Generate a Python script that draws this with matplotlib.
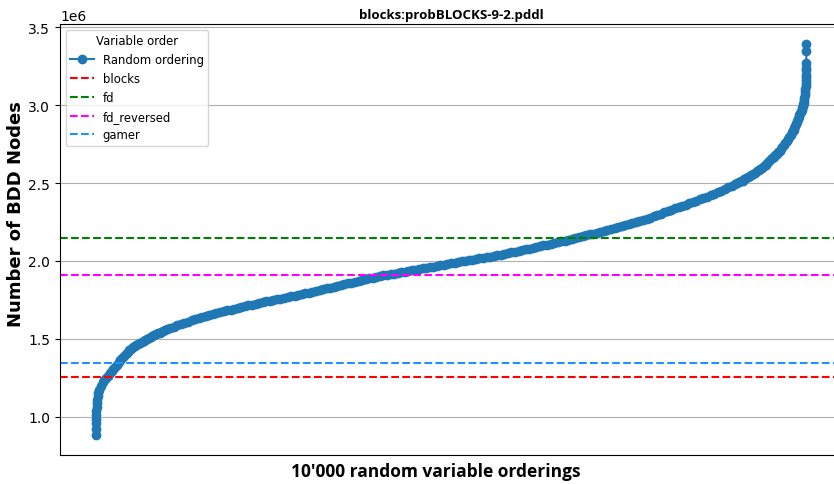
import numpy as np
import matplotlib
matplotlib.use("Agg")
import matplotlib.pyplot as plt

# sorted BDD sizes of the random orderings (in millions)
tail_lo_rank = [0, 1, 2, 4, 7, 10, 14, 19, 25, 32, 40]
tail_lo_nodes = [0.880, 0.923, 0.962, 0.985, 1.010, 1.035, 1.060, 1.085, 1.110, 1.135, 1.155]

lo_rank = list(range(50, 1000, 25))
lo_nodes = [
    1.170, 1.198, 1.221, 1.236, 1.249, 1.262, 1.278, 1.293, 1.308, 1.322,
    1.335, 1.349, 1.363, 1.377, 1.390, 1.403, 1.415, 1.427, 1.437, 1.446,
    1.454, 1.462, 1.469, 1.476, 1.482, 1.488, 1.494, 1.499, 1.505, 1.512,
    1.518, 1.524, 1.529, 1.535, 1.540, 1.546, 1.551, 1.556,
]

mid_rank = list(range(1000, 9000, 50))
mid_nodes = [
    1.560, 1.569, 1.578, 1.587, 1.596, 1.603, 1.611, 1.619, 1.626, 1.632,
    1.639, 1.645, 1.652, 1.659, 1.665, 1.671, 1.677, 1.683, 1.688, 1.693,
    1.698, 1.702, 1.708, 1.714, 1.719, 1.725, 1.731, 1.736, 1.741, 1.745,
    1.749, 1.753, 1.758, 1.763, 1.768, 1.772, 1.777, 1.782, 1.787, 1.792,
    1.797, 1.803, 1.808, 1.813, 1.819, 1.824, 1.829, 1.835, 1.840, 1.845,
    1.851, 1.856, 1.861, 1.866, 1.872, 1.877, 1.882, 1.888, 1.893, 1.898,
    1.903, 1.907, 1.911, 1.915, 1.919, 1.923, 1.927, 1.932, 1.936, 1.940,
    1.944, 1.948, 1.952, 1.956, 1.960, 1.964, 1.968, 1.972, 1.977, 1.981,
    1.985, 1.989, 1.993, 1.997, 2.001, 2.004, 2.008, 2.012, 2.016, 2.020,
    2.024, 2.028, 2.032, 2.036, 2.040, 2.045, 2.050, 2.055, 2.060, 2.064,
    2.069, 2.074, 2.079, 2.084, 2.089, 2.094, 2.099, 2.104, 2.110, 2.115,
    2.120, 2.126, 2.131, 2.136, 2.142, 2.147, 2.153, 2.159, 2.165, 2.171,
    2.176, 2.182, 2.188, 2.194, 2.200, 2.206, 2.212, 2.218, 2.224, 2.230,
    2.236, 2.242, 2.248, 2.254, 2.262, 2.270, 2.278, 2.286, 2.294, 2.302,
    2.311, 2.319, 2.328, 2.338, 2.346, 2.354, 2.362, 2.370, 2.378, 2.387,
    2.395, 2.404, 2.412, 2.422, 2.432, 2.442, 2.452, 2.462, 2.473, 2.484,
]

hi_rank = (list(range(9000, 9500, 25)) + list(range(9500, 9800, 20))
           + list(range(9800, 9960, 10)))
hi_nodes = [
    2.494, 2.499, 2.504, 2.510, 2.516, 2.523, 2.530, 2.537, 2.545, 2.552,
    2.560, 2.567, 2.575, 2.582, 2.590, 2.598, 2.607, 2.618, 2.630, 2.641,
    2.652, 2.661, 2.670, 2.679, 2.689, 2.698, 2.708, 2.717, 2.729, 2.743,
    2.756, 2.770, 2.783, 2.797, 2.811,
    2.826, 2.834, 2.843, 2.854, 2.865, 2.877, 2.889, 2.901, 2.912, 2.924,
    2.935, 2.947, 2.959, 2.971, 2.983, 2.995,
]

tail_hi_rank = [9955, 9960, 9965, 9970, 9975, 9979, 9983, 9986, 9988, 9990,
                9992, 9993, 9995, 9996, 9997, 9998, 9999]
tail_hi_nodes = [3.005, 3.015, 3.030, 3.045, 3.065, 3.085, 3.105, 3.125, 3.140, 3.160,
                 3.180, 3.195, 3.225, 3.240, 3.270, 3.345, 3.395]

# fixed variable orders (millions)
order_names = ["blocks", "fd", "fd_reversed", "gamer"]
order_nodes = [1.256, 2.145, 1.907, 1.347]
order_colors = ["red", "green", "magenta", "dodgerblue"]

rank = tail_lo_rank + lo_rank + mid_rank + hi_rank + tail_hi_rank
nodes = np.array(tail_lo_nodes + lo_nodes + mid_nodes + hi_nodes + tail_hi_nodes) * 1e6

fig = plt.figure(figsize=(8.34, 4.85), dpi=100)
ax = fig.add_axes([60 / 834, 29 / 485, 782 / 834, 431 / 485])

ax.plot(rank, nodes, marker="o", label="Random ordering")
for name, val, col in zip(order_names, order_nodes, order_colors):
    ax.axhline(val * 1e6, color=col, linestyle="--", label=name)

ax.set_xticks([])
ax.grid(axis="y")
ax.set_title("blocks:probBLOCKS-9-2.pddl", fontsize=9.5, fontweight="bold",
             family="Open Sans", pad=4.5)
ax.set_xlabel("10'000 random variable orderings", fontsize=12.5, fontweight="bold",
              family="Open Sans")
ax.xaxis.set_label_coords(0.481, -0.037, transform=ax.transAxes)
ax.xaxis.label.set_va("center")
ax.set_ylabel("Number of BDD Nodes", fontsize=13, fontweight="bold")
ax.yaxis.set_label_coords(-0.045, 0.561, transform=ax.transAxes)
ax.legend(title="Variable order", loc="upper left", fontsize="small",
          title_fontsize="small")

fig.savefig("out.png", dpi=100)
